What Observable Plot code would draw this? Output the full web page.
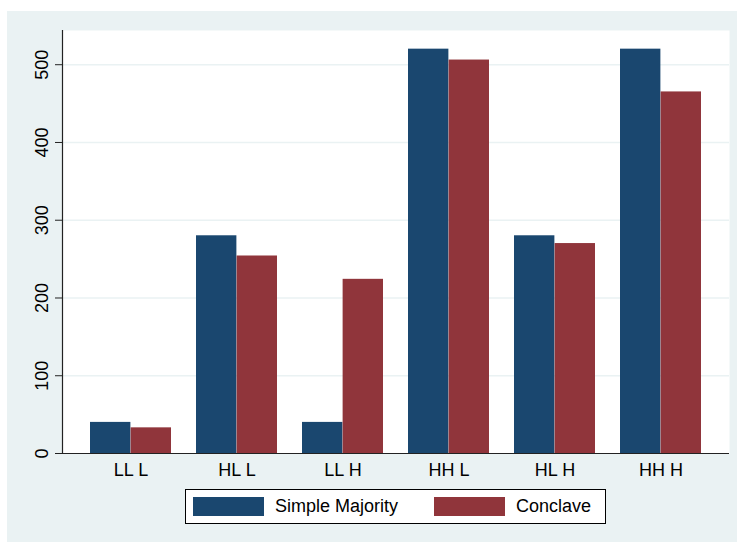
<!DOCTYPE html>
<html><head><meta charset="utf-8">
<script src="https://cdn.jsdelivr.net/npm/d3@7"></script>
<script src="https://cdn.jsdelivr.net/npm/@observablehq/plot@0.6"></script>
<style>
body{margin:0;background:#fff;font-family:"Liberation Sans",Arial,Helvetica,sans-serif;}
#wrap{position:absolute;left:7px;top:11px;width:730px;height:531px;background:#EAF2F3;}
#chart{position:absolute;left:0;top:0;}
#legend{position:absolute;left:178px;top:478px;width:419px;height:33px;background:#fff;border:1px solid #000;}
#legend .sw{position:absolute;top:7px;width:71px;height:19px;}
#legend .lb{position:absolute;top:6px;font-size:18px;line-height:21px;color:#000;white-space:nowrap;}
</style></head>
<body>
<div id="wrap"><div id="chart"></div><div id="legend"></div></div>
<script>
const groups = ["LL L","HL L","LL H","HH L","HL H","HH H"];
const simpleMajority = [40,280,40,520,280,520];
const conclave = [33,254,224,506,270,465];
const seriesNames = ["Simple Majority","Conclave"];
const seriesColors = ["#1A476F","#90353B"];
const yTicks = [0,100,200,300,400,500];

const data = [];
groups.forEach((g,i)=>{
  data.push({group:g, series:seriesNames[0], value:simpleMajority[i]});
  data.push({group:g, series:seriesNames[1], value:conclave[i]});
});

const W = 730, ML = 55, MR = 8;
const pIn = 0.24, pOut = 0.24;
const step = (W-ML-MR)/(groups.length - pIn + 2*pOut);
const half = step*(1-pIn)/2;

const chart = Plot.plot({
  width: W, height: 470,
  marginLeft: ML, marginRight: MR, marginTop: 19, marginBottom: 28,
  style:{background:"transparent", fontFamily:'"Liberation Sans",Arial,Helvetica,sans-serif', fontSize:"18px", color:"#000"},
  x:{domain:groups, paddingInner:pIn, paddingOuter:pOut, label:null},
  y:{domain:[0,544], label:null},
  color:{domain:seriesNames, range:seriesColors},
  marks:[
    Plot.frame({fill:"white", stroke:null}),
    Plot.ruleY(yTicks.filter(d=>d>0), {stroke:"#EAF2F3", strokeWidth:1.5}),
    Plot.barY(data.filter(d=>d.series===seriesNames[0]), {x:"group", y:"value", fill:"series", insetRight:half, insetLeft:0}),
    Plot.barY(data.filter(d=>d.series===seriesNames[1]), {x:"group", y:"value", fill:"series", insetLeft:half, insetRight:0}),
    Plot.frame({anchor:"left", stroke:"#222", strokeWidth:1.2}),
    Plot.ruleY([0], {stroke:"#222", strokeWidth:1.2}),
    Plot.axisX({tickSize:0, tickPadding:10, fontSize:18, label:null}),
    Plot.axisY({ticks:yTicks, tickSize:7, tickPadding:8, tickRotate:-90, fontSize:18, label:null, stroke:"#222"})
  ]
});
document.getElementById("chart").appendChild(chart);

const lg = document.getElementById("legend");
const swX = [7, 248], lbX = [89, 330];
seriesNames.forEach((s,i)=>{
  const sw = document.createElement("div");
  sw.className="sw"; sw.style.left=swX[i]+"px"; sw.style.background=seriesColors[i];
  const lb = document.createElement("div");
  lb.className="lb"; lb.style.left=lbX[i]+"px"; lb.textContent=s;
  lg.appendChild(sw); lg.appendChild(lb);
});
</script>
</body></html>
